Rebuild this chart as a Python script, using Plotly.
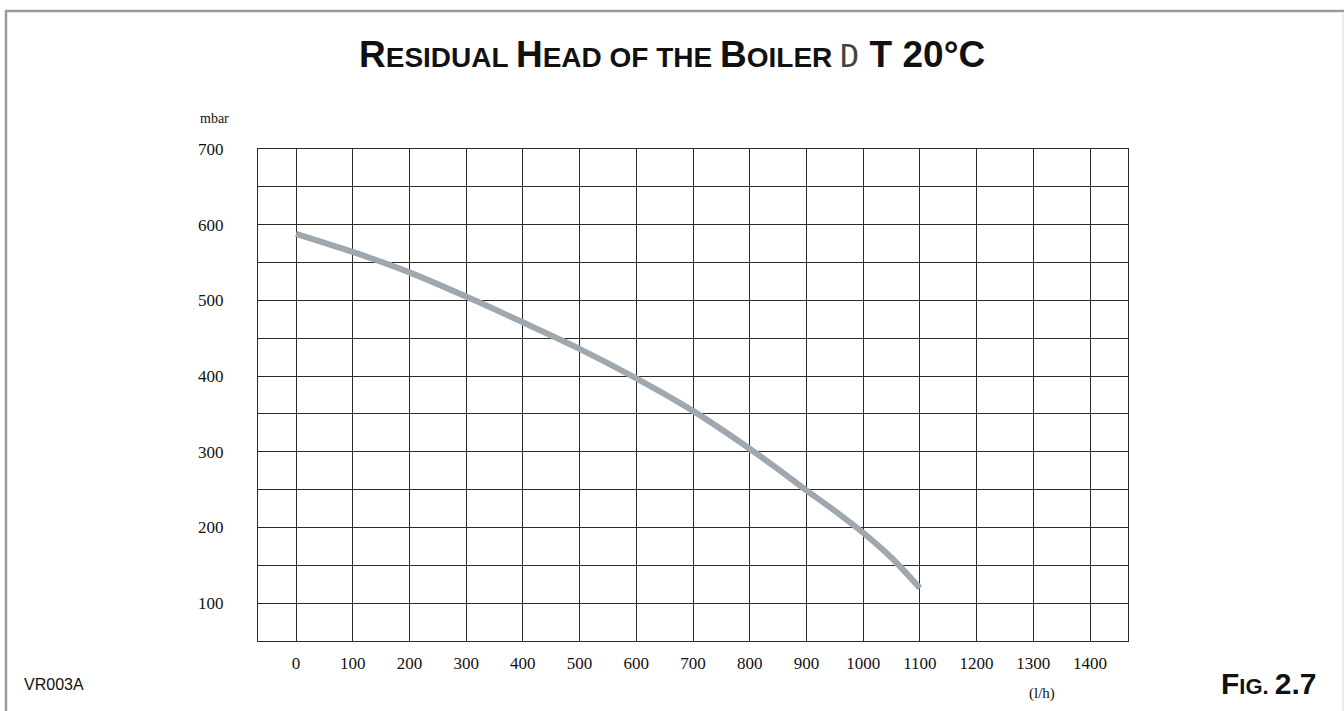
import plotly.graph_objects as go

# Data
flow_lh = [0, 100, 200, 300, 400, 500, 600, 700, 800, 850, 900, 950, 1000, 1050, 1100]
head_mbar = [588, 564, 537, 505, 471, 436, 397, 354, 304, 277, 249, 222, 193, 160, 120]
x_ticks = [0, 100, 200, 300, 400, 500, 600, 700, 800, 900, 1000, 1100, 1200, 1300, 1400]
y_ticks = [50, 100, 150, 200, 250, 300, 350, 400, 450, 500, 550, 600, 650, 700]
y_labels = ["" if v % 100 else str(v) for v in y_ticks]

W, H = 1344, 711
L, R, T, B = 258, 1128, 149, 641

def px(x):
    return (x - L) / (R - L)

def py(y):
    return (B - y) / (B - T)

fig = go.Figure()
fig.add_trace(go.Scatter(
    x=flow_lh, y=head_mbar, mode="lines",
    line=dict(color="#9ea8ae", width=6, shape="spline", smoothing=0.8),
    showlegend=False, hoverinfo="skip",
))

grid_col = "#2a2a2a"
serif = "Liberation Serif, Times New Roman, serif"
fig.update_xaxes(
    range=[-67, 1467], tickvals=x_ticks, showgrid=True, gridcolor=grid_col, gridwidth=1.2,
    showline=True, mirror=True, linecolor=grid_col, linewidth=1.4, zeroline=False,
    ticks="", ticklabelstandoff=6, tickfont=dict(family=serif, size=17, color="#111"),
)
fig.update_yaxes(
    range=[50, 700], tickvals=y_ticks, ticktext=y_labels, showgrid=True, gridcolor=grid_col,
    gridwidth=1.2, showline=True, mirror=True, linecolor=grid_col, linewidth=1.4, zeroline=False,
    ticks="", ticklabelstandoff=30, tickfont=dict(family=serif, size=17, color="#111"),
)

sans = "Liberation Sans, Arial, sans-serif"
big, small = 37, 28
title = (f"<b><span style='font-size:{big}px'>R</span>ESIDUAL "
         f"<span style='font-size:{big}px'>H</span>EAD OF THE "
         f"<span style='font-size:{big}px'>B</span>OILER </b>"
         f"<span style='font-family:DejaVu Sans Mono;font-size:{big-5}px;color:#444'>D</span>"
         f"<b><span style='font-size:{big}px'> T 20°C</span></b>")

annotations = [
    dict(x=px(672), y=py(55), text=title, font=dict(family=sans, size=small, color="#111")),
    dict(x=px(214), y=py(119), text="mbar", font=dict(family=serif, size=14, color="#111")),
    dict(x=px(1042), y=py(693), text="(l/h)", font=dict(family=serif, size=15, color="#111")),
    dict(x=px(22), y=py(684), text="VR003A", xanchor="left",
         font=dict(family=sans, size=16, color="#111")),
    dict(x=px(1319), y=py(683), xanchor="right",
         text="<b><span style='font-size:30px'>F</span>IG. <span style='font-size:30px'>2.7</span></b>",
         font=dict(family=sans, size=22, color="#111")),
]
for a in annotations:
    a.update(xref="paper", yref="paper", showarrow=False)
    a.setdefault("xanchor", "center")
    a["yanchor"] = "middle"

shapes = [
    dict(type="line", xref="paper", yref="paper", x0=px(6), x1=px(6), y0=py(11), y1=py(720),
         line=dict(color="#9a9a9a", width=2.5)),
    dict(type="line", xref="paper", yref="paper", x0=px(5), x1=px(1345), y0=py(11), y1=py(11),
         line=dict(color="#9a9a9a", width=2.5)),
    dict(type="line", xref="paper", yref="paper", x0=px(1343), x1=px(1343), y0=py(12), y1=py(720),
         line=dict(color="#e4e4e4", width=1.5)),
]

fig.update_layout(
    width=W, height=H, autosize=False,
    margin=dict(l=L, r=W - R, t=T, b=H - B),
    paper_bgcolor="white", plot_bgcolor="white",
    annotations=annotations, shapes=shapes,
)

fig.write_html("out.html", config={"displayModeBar": False},
               post_script="document.body.style.margin='0';document.body.style.overflow='hidden';")
